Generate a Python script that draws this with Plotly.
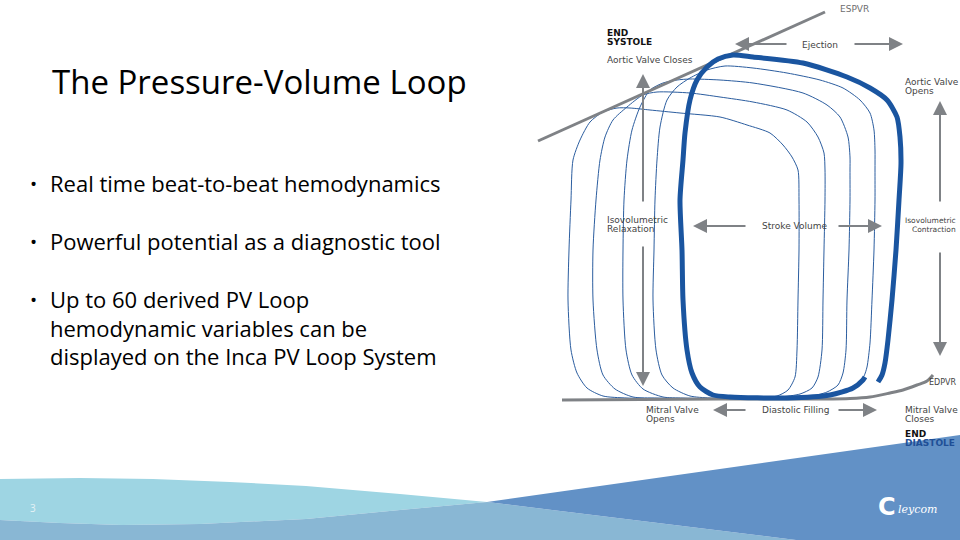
import plotly.graph_objects as go

# ---------------- data (slide pixel units) ----------------
# PV loops: volume (x) / pressure (y, screen-down) points
loop_d_x = [690, 753, 777, 788, 795, 797, 798, 799, 799, 798, 792, 783, 770, 747, 720, 680, 650, 630, 617, 603, 590, 580, 573, 571, 569, 568, 571, 577, 587, 603, 627, 690]
loop_d_y = [399, 398, 396, 390, 377, 350, 300, 250, 200, 170, 157, 145, 133, 125, 117, 113, 110, 108, 108, 112, 122, 140, 160, 200, 250, 300, 350, 373, 388, 396, 398, 399]

loop_c_x = [720, 780, 800, 812, 818, 822, 823, 824, 825, 825, 824, 818, 807, 787, 753, 720, 690, 657, 643, 627, 613, 605, 600, 596, 593, 593, 597, 603, 615, 633, 657, 720]
loop_c_y = [399, 397, 394, 388, 377, 350, 300, 250, 200, 170, 153, 137, 122, 110, 102, 97, 93, 92, 95, 107, 120, 137, 160, 200, 250, 300, 350, 375, 389, 397, 398, 399]

loop_b_x = [740, 807, 827, 838, 843, 846, 847, 849, 850, 850, 850, 848, 840, 827, 803, 753, 720, 690, 677, 663, 650, 640, 632, 627, 624, 623, 623, 626, 632, 643, 663, 683, 740]
loop_b_y = [399, 397, 392, 385, 373, 350, 300, 250, 200, 170, 157, 137, 117, 105, 93, 83, 80, 79, 80, 83, 90, 107, 130, 160, 200, 250, 300, 350, 375, 389, 397, 398, 399]

loop_a_x = [760, 820, 845, 858, 864, 867, 870, 872, 874, 875, 875, 875, 874, 870, 860, 843, 820, 787, 753, 725, 707, 690, 677, 667, 660, 657, 655, 654, 653, 656, 662, 673, 690, 710, 760]
loop_a_y = [399, 396, 390, 383, 376, 367, 343, 300, 250, 200, 170, 150, 130, 113, 100, 88, 80, 73, 68, 66, 70, 78, 87, 100, 127, 160, 200, 250, 300, 350, 375, 388, 396, 398, 399]

loop_main_x = [878, 882, 885, 888, 892, 896, 899, 901, 900, 897, 887, 870, 847, 803, 753, 733, 718, 707, 697, 690, 685, 683, 680, 682, 683, 687, 692, 700, 713, 730, 787, 830, 853, 863, 865]
loop_main_y = [382, 375, 363, 340, 300, 250, 200, 163, 137, 117, 100, 88, 77, 63, 57, 55, 59, 67, 80, 100, 133, 160, 200, 250, 300, 350, 373, 387, 395, 397, 398, 395, 388, 380, 377]

espvr_x = [538, 825]
espvr_y = [141, 12]

edpvr_x = [562, 720, 820, 850, 870, 890, 903, 917, 927, 933]
edpvr_y = [400, 399, 399, 398.5, 397, 393, 390, 385, 381, 375]

# bottom decoration bands
cyan_x = [0, 80, 153, 230, 306, 400, 487, 400, 306, 200, 122, 60, 0]
cyan_y = [479, 478, 479, 482, 486, 494, 502, 510, 519, 524, 525, 523, 520]
mid_x = [0, 60, 122, 200, 306, 400, 487, 796, 0]
mid_y = [520, 523, 525, 524, 519, 510, 502, 540, 540]
dark_x = [487, 960, 960, 796]
dark_y = [502, 435, 540, 540]

title = "The Pressure-Volume Loop"
bullets = [
    ["Real time beat-to-beat hemodynamics"],
    ["Powerful potential as a diagnostic tool"],
    ["Up to 60 derived PV Loop", "hemodynamic variables can be", "displayed on the Inca PV Loop System"],
]
bullet_y = [183, 241, 299]

# diagram labels: text, x, y, colour, bold, size, anchor
labels = [
    ("ESPVR", 838, 9, "#6d6d6d", False, 9, "left"),
    ("END", 605, 33, "#111111", True, 9, "left"),
    ("SYSTOLE", 605, 42, "#111111", True, 9, "left"),
    ("Aortic Valve Closes", 605, 60, "#444444", False, 9, "left"),
    ("Ejection", 800, 45, "#444444", False, 9, "left"),
    ("Aortic Valve", 903, 82, "#444444", False, 9, "left"),
    ("Opens", 903, 91, "#444444", False, 9, "left"),
    ("Isovolumetric", 958, 220, "#444444", False, 7.5, "right"),
    ("Contraction", 958, 229, "#444444", False, 7.5, "right"),
    ("Isovolumetric", 605, 220, "#444444", False, 9, "left"),
    ("Relaxation", 605, 229, "#444444", False, 9, "left"),
    ("Stroke Volume", 760, 226, "#444444", False, 9, "left"),
    ("EDPVR", 959, 382, "#444444", False, 8, "right"),
    ("Mitral Valve", 644, 410, "#444444", False, 9, "left"),
    ("Opens", 644, 419, "#444444", False, 9, "left"),
    ("Diastolic Filling", 760, 410, "#444444", False, 9, "left"),
    ("Mitral Valve", 903, 410, "#444444", False, 9, "left"),
    ("Closes", 903, 419, "#444444", False, 9, "left"),
    ("END", 903, 434, "#111111", True, 9, "left"),
    ("DIASTOLE", 903, 443, "#1f4f96", True, 9, "left"),
]

# arrows: (tail x, tail y, head x, head y)
arrows = [
    (788, 44, 735, 44), (853, 44, 903, 44),
    (747, 226, 693, 226), (837, 226, 882, 226),
    (747, 410, 713, 410), (837, 410, 877, 410),
    (643, 203, 643, 74), (643, 245, 643, 386),
    (940, 203, 940, 101), (940, 251, 940, 356),
]

# ---------------- figure ----------------
fig = go.Figure()

for xs, ys, col in [(cyan_x, cyan_y, "#9ed5e3"), (mid_x, mid_y, "#89b7d4"), (dark_x, dark_y, "#6291c6")]:
    fig.add_trace(go.Scatter(x=xs, y=ys, fill="toself", fillcolor=col, mode="none",
                             hoverinfo="skip"))

for xs, ys in [(loop_d_x, loop_d_y), (loop_c_x, loop_c_y), (loop_b_x, loop_b_y), (loop_a_x, loop_a_y)]:
    fig.add_trace(go.Scatter(x=xs, y=ys, mode="lines",
                             line=dict(color="#2b5d9f", width=1, shape="spline", smoothing=0.7),
                             hoverinfo="skip"))

fig.add_trace(go.Scatter(x=edpvr_x, y=edpvr_y, mode="lines",
                         line=dict(color="#7f8286", width=3, shape="spline", smoothing=0.8),
                         hoverinfo="skip"))
fig.add_trace(go.Scatter(x=espvr_x, y=espvr_y, mode="lines",
                         line=dict(color="#7f8286", width=3), hoverinfo="skip"))
fig.add_trace(go.Scatter(x=loop_main_x, y=loop_main_y, mode="lines",
                         line=dict(color="#1a55a0", width=5, shape="spline", smoothing=0.7),
                         hoverinfo="skip"))

ann = []
ann.append(dict(x=50, y=81, text=title, showarrow=False, xanchor="left", yanchor="middle",
                font=dict(family="Open Sans", size=33, color="#000000")))
for lines, y0 in zip(bullets, bullet_y):
    ann.append(dict(x=33, y=y0 + 1, text="•", showarrow=False, xanchor="center", yanchor="middle",
                    font=dict(family="Open Sans", size=19, color="#000000")))
    ann.append(dict(x=48, y=y0 - 17, text="<br>".join(lines), showarrow=False,
                    xanchor="left", yanchor="top", align="left",
                    font=dict(family="Open Sans", size=22, color="#000000")))

for txt, x, y, col, bold, sz, anc in labels:
    ann.append(dict(x=x, y=y, text=("<b>%s</b>" % txt) if bold else txt, showarrow=False,
                    xanchor=anc, yanchor="middle", align=anc,
                    font=dict(family="DejaVu Sans", size=sz, color=col)))

for tx, ty, hx, hy in arrows:
    ann.append(dict(x=hx, y=hy, ax=tx, ay=ty, xref="x", yref="y", axref="x", ayref="y",
                    text="", showarrow=True, arrowhead=2, arrowsize=1.4, arrowwidth=2,
                    arrowcolor="#7f8286"))

ann.append(dict(x=33, y=508, text="3", showarrow=False, xanchor="center", yanchor="middle",
                font=dict(family="Open Sans", size=10, color="#e4f2f6")))
ann.append(dict(x=887, y=507, text="<b>C</b>", showarrow=False, xanchor="center", yanchor="middle",
                font=dict(family="DejaVu Sans", size=24, color="#ffffff")))
ann.append(dict(x=896, y=509, text="<i>leycom</i>", showarrow=False, xanchor="left", yanchor="middle",
                font=dict(family="DejaVu Serif", size=11, color="#ffffff")))

fig.update_layout(
    width=960, height=540, margin=dict(l=0, r=0, t=0, b=0),
    paper_bgcolor="#ffffff", plot_bgcolor="#ffffff", showlegend=False,
    xaxis=dict(range=[0, 960], visible=False, fixedrange=True),
    yaxis=dict(range=[540, 0], visible=False, fixedrange=True),
    annotations=ann,
)

fig.write_html("out.html", config={"displayModeBar": False, "staticPlot": True},
               post_script="document.body.style.margin='0';document.body.style.overflow='hidden';")
